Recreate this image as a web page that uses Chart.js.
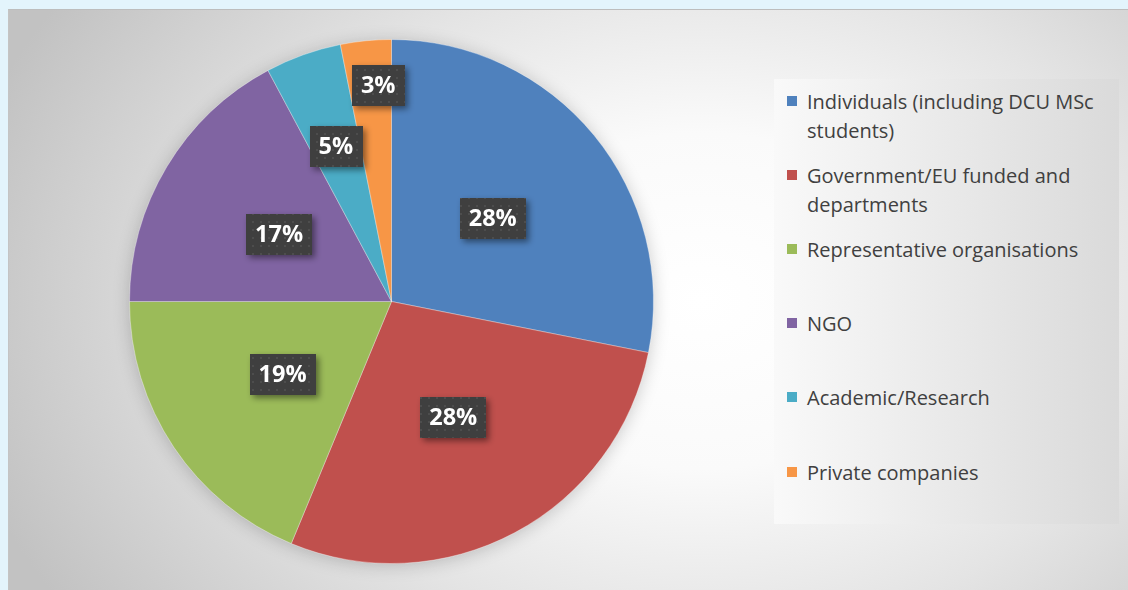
<!DOCTYPE html>
<html>
<head>
<meta charset="utf-8">
<script src="https://cdn.jsdelivr.net/npm/chart.js@4.4.1/dist/chart.umd.min.js"></script>
<style>
  html, body { margin: 0; padding: 0; }
  body { width: 1128px; height: 590px; background: #e3f4fc; position: relative; overflow: hidden; }
  #frame {
    position: absolute; left: 8px; top: 9px; width: 1120px; height: 581px;
    box-sizing: border-box; border-top: 1px solid #bdbdbd; border-left: 1px solid #c4c4c4;
    background: radial-gradient(ellipse 760px 560px at 692px 291px, #ffffff 0%, #fafafa 30%, #e4e4e4 60%, #c2c2c2 100%);
  }
  #chartWrap { position: absolute; left: 0; top: 0; width: 1120px; height: 581px; }
  #legend {
    position: absolute; left: 765px; top: 69px; width: 345px; height: 445px;
    background: linear-gradient(to right, #f9f9f9, #dadada);
    font-family: "Open Sans", "Noto Sans", sans-serif; font-size: 20px; color: #404040;
  }
  .item { position: absolute; left: 13px; width: 320px; line-height: 29px; }
  .sw { position: absolute; left: 0; top: 9px; width: 10px; height: 10px; }
  .txt { margin-left: 20px; width: 300px; }
</style>
</head>
<body>
<div id="frame">
  <div id="chartWrap"><canvas id="c"></canvas></div>
  <div id="legend"></div>
</div>
<script>
const categories = [
  "Individuals (including DCU MSc students)",
  "Government/EU funded and departments",
  "Representative organisations",
  "NGO",
  "Academic/Research",
  "Private companies"
];
const counts = [18, 18, 12, 11, 3, 2];
const sliceColors = ["#4F81BD", "#C0504D", "#9BBB59", "#8064A2", "#4BACC6", "#F79646"];

const total = counts.reduce((a, b) => a + b, 0);
const percentLabels = counts.map(v => Math.round(v / total * 100) + "%");

// legend (HTML, built from the arrays)
const legend = document.getElementById("legend");
categories.forEach((name, i) => {
  const it = document.createElement("div");
  it.className = "item";
  it.style.top = (8 + i * 74.1) + "px";
  const sw = document.createElement("div");
  sw.className = "sw";
  sw.style.background = sliceColors[i];
  const tx = document.createElement("div");
  tx.className = "txt";
  tx.textContent = name;
  it.appendChild(sw); it.appendChild(tx);
  legend.appendChild(it);
});

// dotted dark pattern for label boxes
function makePattern(ctx) {
  const p = document.createElement("canvas");
  p.width = 8; p.height = 8;
  const pc = p.getContext("2d");
  pc.fillStyle = "#3f3f3f"; pc.fillRect(0, 0, 8, 8);
  pc.fillStyle = "#4d4d4d"; pc.fillRect(3, 3, 2, 2);
  return ctx.createPattern(p, "repeat");
}

const pieShadow = {
  id: "pieShadow",
  beforeDatasetsDraw(chart) {
    const arc = chart.getDatasetMeta(0).data[0];
    if (!arc) return;
    const { x, y, outerRadius } = arc.getProps(["x", "y", "outerRadius"], true);
    const ctx = chart.ctx;
    ctx.save();
    ctx.shadowColor = "rgba(0,0,0,0.22)";
    ctx.shadowBlur = 18;
    ctx.shadowOffsetY = 2;
    ctx.beginPath();
    ctx.arc(x, y, outerRadius - 1, 0, Math.PI * 2);
    ctx.fillStyle = "#888";
    ctx.fill();
    ctx.restore();
  }
};

const boxLabels = {
  id: "boxLabels",
  afterDatasetsDraw(chart, args, opts) {
    const ctx = chart.ctx;
    const meta = chart.getDatasetMeta(0);
    const pattern = makePattern(ctx);
    ctx.save();
    ctx.font = "bold 23.5px 'Open Sans', 'Noto Sans', sans-serif";
    ctx.textAlign = "center";
    ctx.textBaseline = "middle";
    meta.data.forEach((arc, i) => {
      const p = arc.getProps(["x", "y", "startAngle", "endAngle", "outerRadius"], true);
      const mid = (p.startAngle + p.endAngle) / 2;
      const r = p.outerRadius * opts.radiusFraction[i];
      const off = opts.offsets[i];
      const cx = p.x + Math.cos(mid) * r + off[0];
      const cy = p.y + Math.sin(mid) * r + off[1];
      const text = percentLabels[i];
      const w = ctx.measureText(text).width + 18;
      const h = 41;
      ctx.save();
      ctx.shadowColor = "rgba(0,0,0,0.45)";
      ctx.shadowBlur = 6;
      ctx.shadowOffsetX = 3;
      ctx.shadowOffsetY = 3;
      ctx.fillStyle = pattern;
      ctx.fillRect(Math.round(cx - w / 2), Math.round(cy - h / 2), Math.round(w), h);
      ctx.restore();
      ctx.fillStyle = "#ffffff";
      ctx.fillText(text, cx, cy + 1);
    });
    ctx.restore();
  }
};

new Chart(document.getElementById("c"), {
  type: "pie",
  data: {
    labels: categories,
    datasets: [{
      data: counts,
      backgroundColor: sliceColors,
      borderColor: "rgba(255,255,255,0.35)",
      borderWidth: 1
    }]
  },
  options: {
    responsive: true,
    maintainAspectRatio: false,
    animation: false,
    layout: { padding: { left: 120, top: 29, right: 475, bottom: 27 } },
    plugins: {
      legend: { display: false },
      tooltip: { enabled: false },
      boxLabels: {
        radiusFraction: [0.5, 0.5, 0.5, 0.5, 0.63, 0.83],
        offsets: [[0, 0], [0, 0], [0, 0], [0, 0], [0, 0], [8, 0]]
      }
    }
  },
  plugins: [pieShadow, boxLabels]
});
</script>
</body>
</html>
